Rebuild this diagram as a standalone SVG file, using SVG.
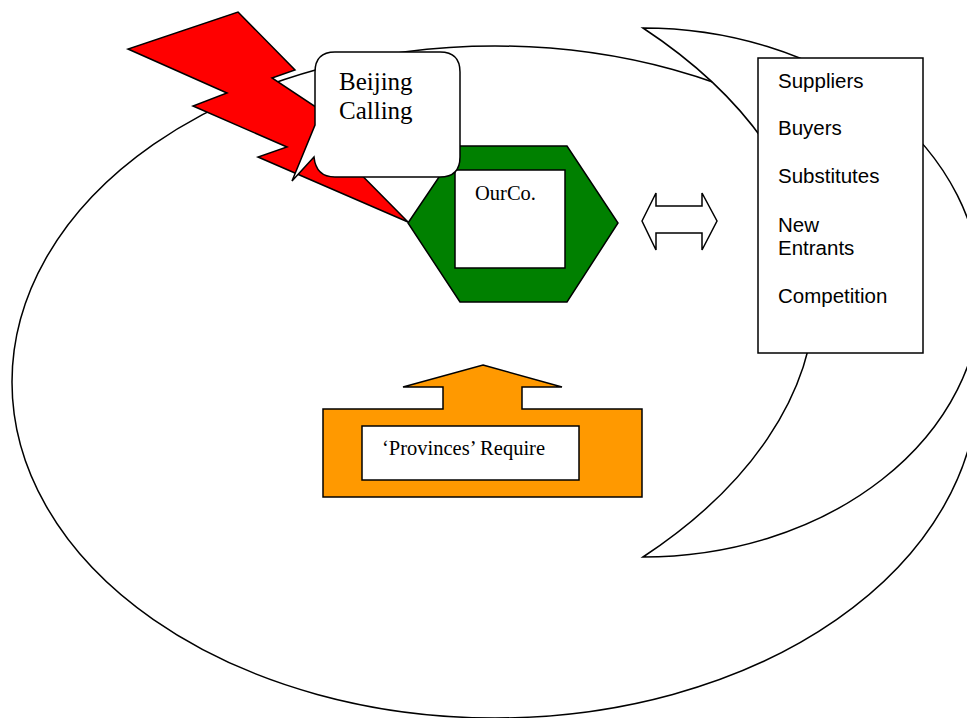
<svg xmlns="http://www.w3.org/2000/svg" width="967" height="718" viewBox="0 0 967 718">
  <style>
    .ln { stroke: #000; stroke-width: 1.5; stroke-linejoin: miter; }
    .white { fill: #fff; }
    .serif { font-family: "Liberation Serif", "Times New Roman", serif; fill: #000; }
    .sans { font-family: "Liberation Sans", Arial, sans-serif; fill: #000; font-size: 20.5px; }
  </style>
  <rect width="967" height="718" fill="#fff"/>

  <g id="environment">
    <ellipse class="ln" cx="495" cy="382" rx="483" ry="336" fill="none"/>
  </g>

  <g id="market">
    <path class="ln white" d="M643,28 A338,264.5 0 0 1 643,557 A689,400 0 0 0 643,28 Z"/>
  </g>

  <g id="beijing-bolt">
    <path class="ln" fill="#FF0000" d="M238,12 L295,70 L272,78 L343,125 L320,133 L408,222 L258,157 L287,147 L193,106 L227,93 L128,49 Z"/>
  </g>

  <g id="ourco">
    <polygon class="ln" fill="#008000" points="408,223 460,146 567,146 618,223 567,302 460,302"/>
    <rect class="ln white" x="455" y="170" width="110" height="98"/>
    <text class="serif" x="475" y="200" font-size="20.5">OurCo.</text>
  </g>

  <g id="beijing-calling">
    <path class="ln white" d="M335,52 H440 Q460,52 460,72 V157 Q460,177 440,177 H335 Q316,177 314,157 L292,181 L315,125 V72 Q315,52 335,52 Z"/>
    <text class="serif" x="339" y="90" font-size="25">Beijing</text>
    <text class="serif" x="339" y="119" font-size="25">Calling</text>
  </g>

  <g id="connectors">
    <path id="exchange" class="ln white" d="M642,221 L656,193 L656,206 L702,206 L702,193 L717,221 L702,250 L702,233 L656,233 L656,250 Z"/>
  </g>

  <g id="forces">
    <rect class="ln white" x="758" y="58" width="165" height="295"/>
    <text class="sans" x="778" y="88">Suppliers</text>
    <text class="sans" x="778" y="135">Buyers</text>
    <text class="sans" x="778" y="183">Substitutes</text>
    <text class="sans" x="778" y="232">New</text>
    <text class="sans" x="778" y="255">Entrants</text>
    <text class="sans" x="778" y="303">Competition</text>
  </g>

  <g id="provinces">
    <path class="ln" fill="#FF9900" d="M483,365 L562,387 L522,387 L522,409 L642,409 L642,497 L323,497 L323,409 L443,409 L443,387 L403,387 Z"/>
    <rect class="ln white" x="362" y="426" width="217" height="54"/>
    <text class="serif" x="382" y="455" font-size="20.5">‘Provinces’ Require</text>
  </g>
</svg>
